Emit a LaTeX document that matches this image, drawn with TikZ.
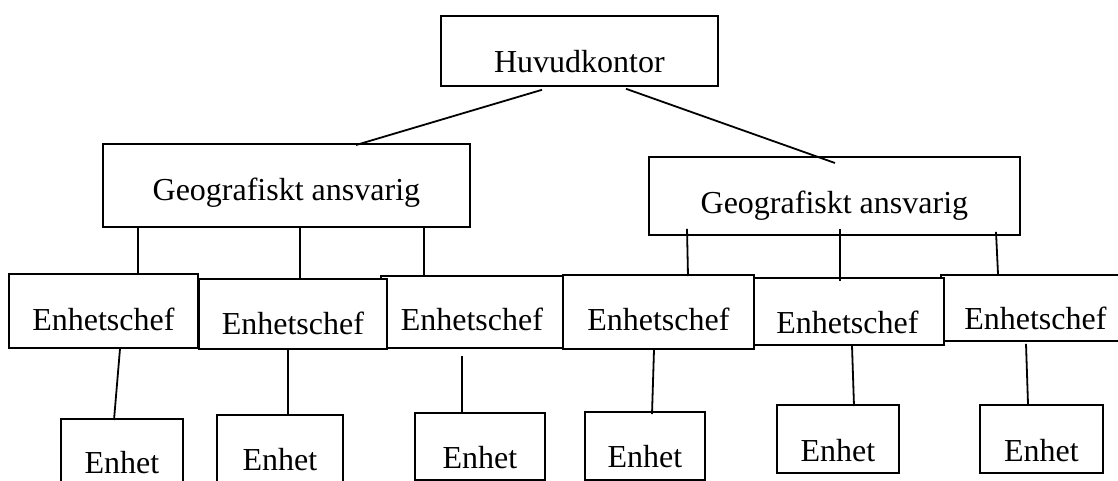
\documentclass[tikz,border=0pt]{standalone}
\usepackage{fontspec}
\setmainfont{Liberation Serif}
\usetikzlibrary{positioning}

\begin{document}
\begin{tikzpicture}[
  x=1pt, y=-1pt,
  font=\fontsize{32}{36}\selectfont,
  box/.style={
    draw,
    fill=white,
    anchor=north west,
    inner sep=0pt,
    text height=57pt,
    line width=1.8pt
  },
  edge/.style={draw=black,line width=1.8pt}
]
  \useasboundingbox (0,0) rectangle (1118,480);
  \clip (0,0) rectangle (1118,480);

  \node[box, minimum width=277pt, text depth=13pt] (hq) at (440,15) {Huvudkontor};

  \node[box, minimum width=367pt, text depth=26pt] (geoA) at (102,143) {Geografiskt ansvarig};
  \node[box, minimum width=371pt, text depth=21pt] (geoB) at (648,156) {Geografiskt ansvarig};

  % overlapping boxes: the left one lies on top
  \node[box, minimum width=182pt, text depth=17pt, text height=55pt] (chefC) at (380,275) {Enhetschef};
  \node[box, minimum width=188pt, text depth=14pt, text height=56pt] (chefB) at (198,278) {Enhetschef};
  \node[box, minimum width=189pt, text depth=17pt] (chefA) at (8,273) {Enhetschef};
  \node[box, minimum width=189pt, text depth=11pt, text height=55pt] (chefF) at (940,274) {Enhetschef};
  \node[box, minimum width=193pt, text depth=11pt, text height=56pt] (chefE) at (750,277) {Enhetschef};
  \node[box, minimum width=191pt, text depth=18pt, text height=56pt] (chefD) at (562,274) {Enhetschef};

  \node[box, minimum width=122pt, text depth=12pt, text height=55pt] (enhA) at (60,418) {Enhet};
  \node[box, minimum width=126pt, text depth=11pt, text height=56pt] (enhB) at (216,414) {Enhet};
  \node[box, minimum width=130pt, text depth=11pt, text height=56pt] (enhC) at (414,412) {Enhet};
  \node[box, minimum width=120pt, text depth=12pt, text height=56pt] (enhD) at (584,411) {Enhet};
  \node[box, minimum width=122pt, text depth=11pt] (enhE) at (776,404) {Enhet};
  \node[box, minimum width=123pt, text depth=11pt] (enhF) at (979,404) {Enhet};

  \draw[edge] ([xshift=102pt,yshift=-3pt]hq.south west) -- ([xshift=254pt,yshift=-2pt]geoA.north west);
  \draw[edge] ([xshift=186pt,yshift=-2pt]hq.south west) -- ([xshift=187pt,yshift=-7pt]geoB.north west);

  \draw[edge] ([xshift=36pt]geoA.south west) -- ([xshift=130pt]chefA.north west);
  \draw[edge] ([xshift=198pt]geoA.south west) -- ([xshift=102pt]chefB.north west);
  \draw[edge] ([xshift=322pt]geoA.south west) -- ([xshift=44pt,yshift=-2pt]chefC.north west);

  \draw[edge] ([xshift=39pt,yshift=7pt]geoB.south west) -- ([xshift=126pt,yshift=-2pt]chefD.north west);
  \draw[edge] ([xshift=192pt,yshift=7pt]geoB.south west) -- ([xshift=90pt,yshift=-4pt]chefE.north west);
  \draw[edge] ([xshift=348pt,yshift=4pt]geoB.south west) -- ([xshift=58pt]chefF.north west);

  \draw[edge] ([xshift=112pt]chefA.south west) -- ([xshift=54pt,yshift=-2pt]enhA.north west);
  \draw[edge] ([xshift=90pt]chefB.south west) -- ([xshift=72pt]enhB.north west);
  \draw[edge] ([xshift=82pt,yshift=-7pt]chefC.south west) -- ([xshift=48pt,yshift=-2pt]enhC.north west);
  \draw[edge] ([xshift=92pt]chefD.south west) -- ([xshift=68pt,yshift=-3pt]enhD.north west);
  \draw[edge] ([xshift=102pt]chefE.south west) -- ([xshift=78pt,yshift=-2pt]enhE.north west);
  \draw[edge] ([xshift=86pt,yshift=-2pt]chefF.south west) -- ([xshift=49pt]enhF.north west);
\end{tikzpicture}
\end{document}
